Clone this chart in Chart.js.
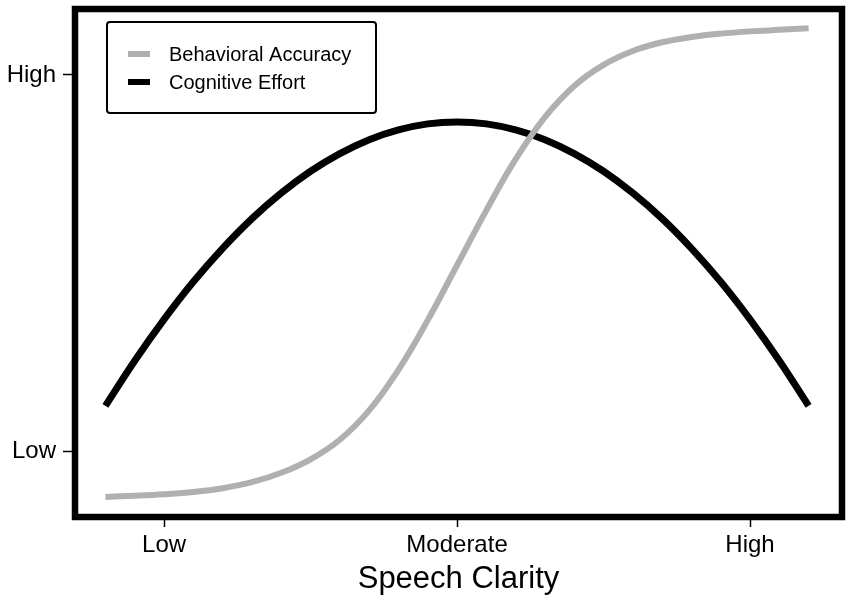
<!DOCTYPE html>
<html>
<head>
<meta charset="utf-8">
<script src="https://cdn.jsdelivr.net/npm/chart.js@4"></script>
<style>
  html, body { margin: 0; padding: 0; background: #fff; }
  canvas { display: block; }
</style>
</head>
<body>
<canvas id="c" width="851" height="602"></canvas>
<script>
// ---- data ----
const clarity = [0.8, 0.9, 1.0, 1.1, 1.2, 1.3, 1.4, 1.5, 1.6, 1.7, 1.8, 1.9, 2.0,
                 2.1, 2.2, 2.3, 2.4, 2.5, 2.6, 2.7, 2.8, 2.9, 3.0, 3.1, 3.2];
const behavioralAccuracy = [-0.122, -0.119, -0.115, -0.109, -0.099, -0.083, -0.058, -0.022, 0.030, 0.108,
                            0.216, 0.348, 0.494, 0.640, 0.776, 0.888, 0.971, 1.027, 1.064, 1.087,
                            1.101, 1.110, 1.116, 1.120, 1.124];
const cognitiveEffort = [0.120, 0.240, 0.350, 0.450, 0.539, 0.618, 0.686, 0.744, 0.791, 0.828,
                         0.854, 0.870, 0.875, 0.870, 0.854, 0.828, 0.791, 0.744, 0.686, 0.618,
                         0.539, 0.450, 0.350, 0.240, 0.120];
const xTickValues = [1, 2, 3];
const xTickLabels = ['Low', 'Moderate', 'High'];
const yTickValues = [0, 1];
const yTickLabels = ['Low', 'High'];
const seriesNames = ['Behavioral Accuracy', 'Cognitive Effort'];
const seriesColors = ['#b0b0b0', '#000000'];

const FONT = '"Liberation Sans", Arial, Helvetica, sans-serif';

const frameAndLegend = {
  id: 'frameAndLegend',
  afterDraw(chart) {
    const ctx = chart.ctx;
    const a = chart.chartArea;
    ctx.save();
    // thick frame
    ctx.strokeStyle = '#000';
    ctx.lineWidth = 6.5;
    ctx.strokeRect(a.left, a.top, a.right - a.left, a.bottom - a.top);
    // legend box
    const lx = a.left + 32, ly = a.top + 13, lw = 269, lh = 91;
    ctx.lineWidth = 2;
    ctx.beginPath();
    if (ctx.roundRect) ctx.roundRect(lx, ly, lw, lh, 3); else ctx.rect(lx, ly, lw, lh);
    ctx.stroke();
    ctx.font = '20px ' + FONT;
    ctx.textBaseline = 'middle';
    ctx.textAlign = 'left';
    for (let i = 0; i < seriesNames.length; i++) {
      const y = ly + 32 + i * 28;
      ctx.strokeStyle = seriesColors[i];
      ctx.lineWidth = 6;
      ctx.lineCap = 'butt';
      ctx.beginPath();
      ctx.moveTo(lx + 21, y);
      ctx.lineTo(lx + 43, y);
      ctx.stroke();
      ctx.fillStyle = '#000';
      ctx.fillText(seriesNames[i], lx + 62, y + 1);
    }
    ctx.restore();
  }
};

new Chart(document.getElementById('c'), {
  type: 'line',
  data: {
    datasets: [
      {
        label: seriesNames[0],
        data: clarity.map((x, i) => ({ x, y: behavioralAccuracy[i] })),
        borderColor: seriesColors[0],
        borderWidth: 6,
        pointRadius: 0,
        tension: 0.4,
        borderCapStyle: 'butt',
        fill: false
      },
      {
        label: seriesNames[1],
        data: clarity.map((x, i) => ({ x, y: cognitiveEffort[i] })),
        borderColor: seriesColors[1],
        borderWidth: 7,
        pointRadius: 0,
        tension: 0.4,
        borderCapStyle: 'butt',
        fill: false
      }
    ]
  },
  options: {
    responsive: false,
    animation: false,
    devicePixelRatio: 1,
    layout: { padding: { top: 9, right: 9, left: 0, bottom: 0 } },
    plugins: {
      legend: { display: false },
      tooltip: { enabled: false }
    },
    scales: {
      x: {
        type: 'linear',
        min: 0.696,
        max: 3.314,
        afterBuildTicks: (s) => { s.ticks = xTickValues.map(v => ({ value: v })); },
        afterFit: (s) => { s.height = 85; s.paddingLeft = 0; s.paddingRight = 0; },
        ticks: {
          autoSkip: false,
          maxRotation: 0,
          padding: 4,
          color: '#000',
          font: { family: FONT, size: 24 },
          callback: (v) => xTickLabels[xTickValues.indexOf(v)]
        },
        grid: {
          drawOnChartArea: false,
          drawTicks: true,
          tickLength: 10,
          tickWidth: 1.5,
          tickColor: '#000'
        },
        border: { display: false },
        title: {
          display: true,
          text: 'Speech Clarity',
          color: '#000',
          font: { family: FONT, size: 31 },
          padding: { top: 0, bottom: 4 }
        }
      },
      y: {
        type: 'linear',
        min: -0.1755,
        max: 1.1755,
        afterBuildTicks: (s) => { s.ticks = yTickValues.map(v => ({ value: v })); },
        afterFit: (s) => { s.width = 75; s.paddingTop = 0; s.paddingBottom = 0; },
        ticks: {
          padding: 7,
          color: '#000',
          font: { family: FONT, size: 24 },
          callback: (v) => yTickLabels[yTickValues.indexOf(v)]
        },
        grid: {
          drawOnChartArea: false,
          drawTicks: true,
          tickLength: 12,
          tickWidth: 1.5,
          tickColor: '#000'
        },
        border: { display: false }
      }
    }
  },
  plugins: [frameAndLegend]
});
</script>
</body>
</html>
